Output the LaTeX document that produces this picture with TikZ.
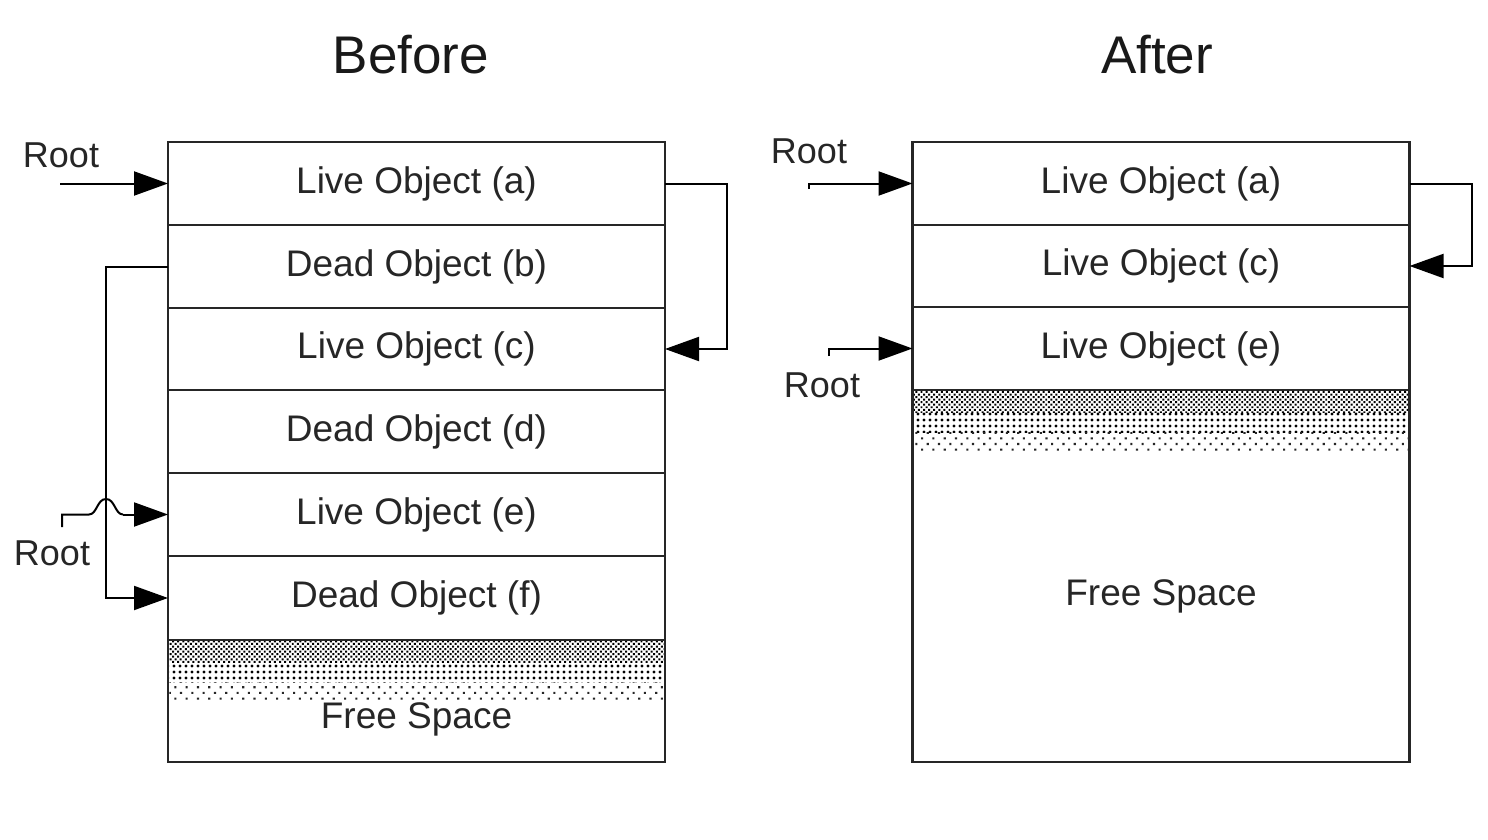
\documentclass[tikz,border=0pt]{standalone}
\usepackage{fontspec}
\setmainfont{Liberation Sans}
\usetikzlibrary{arrows.meta,patterns.meta}
\begin{document}
\begin{tikzpicture}[x=1pt,y=-1pt,
  cell/.style={draw=black!85, line width=2.6pt, minimum width=497pt, inner sep=0pt, outer sep=0pt, font=\fontsize{37}{42}\selectfont, text=black!85},
  lbl/.style={font=\fontsize{36}{40}\selectfont, text=black!85, inner sep=0pt},
  big/.style={font=\fontsize{37}{42}\selectfont, text=black!85, inner sep=0pt},
  ttl/.style={font=\fontsize{53}{60}\selectfont, text=black!90, inner sep=0pt},
  conn/.style={draw=black, line width=2pt, -{Triangle[length=34pt,width=24pt]}},
  wire/.style={draw=black, line width=2pt},
  dense/.style={pattern={Dots[distance=3.6pt, radius=1.4pt, angle=45]}, pattern color=black},
  medium/.style={pattern={Dots[distance=6pt, radius=1.6pt]}, pattern color=black},
  sparse/.style={pattern={Dots[distance=8pt, radius=1.5pt, angle=45]}, pattern color=black!85}]
\useasboundingbox (0,0) rectangle (1488,840);

% titles
\node[ttl] (tb) at (411,55) {Before};
\node[ttl] (ta) at (1157,55) {After};

% Before column
\node[cell, minimum height=83pt] (la) at (416.5,183.5) {\raisebox{-2pt}{Live Object (a)}};
\node[cell, minimum height=83pt] (lb) at (416.5,266.5) {\raisebox{-2pt}{Dead Object (b)}};
\node[cell, minimum height=82pt] (lc) at (416.5,349) {\raisebox{-2pt}{Live Object (c)}};
\node[cell, minimum height=83pt] (ld) at (416.5,431.5) {\raisebox{-2pt}{Dead Object (d)}};
\node[cell, minimum height=83pt] (le) at (416.5,514.5) {\raisebox{-2pt}{Live Object (e)}};
\node[cell, minimum height=84pt] (lf) at (416.5,598) {\raisebox{-2pt}{Dead Object (f)}};
\node[cell, minimum height=122pt] (lfree) at (416.5,701) {};
\fill[dense] ([xshift=1.3pt]lfree.north west) rectangle ([xshift=-1.3pt,yshift=-22pt]lfree.north east);
\fill[medium] ([xshift=1.3pt,yshift=-22pt]lfree.north west) rectangle ([xshift=-1.3pt,yshift=-42pt]lfree.north east);
\fill[sparse] ([xshift=1.3pt,yshift=-42pt]lfree.north west) rectangle ([xshift=-1.3pt,yshift=-60pt]lfree.north east);
\draw[draw=black!85, line width=2.6pt] (lfree.north west) rectangle (lfree.south east);
\node[big] (lfreet) at (416.5,719) {Free Space};

% After column
\node[cell, minimum height=83pt] (ra) at (1161,183.5) {\raisebox{-2pt}{Live Object (a)}};
\node[cell, minimum height=82pt] (rc) at (1161,266) {\raisebox{-2pt}{Live Object (c)}};
\node[cell, minimum height=83pt] (re) at (1161,348.5) {\raisebox{-2pt}{Live Object (e)}};
\node[cell, minimum height=372pt] (rfree) at (1161,576) {};
\fill[dense] ([xshift=1.3pt]rfree.north west) rectangle ([xshift=-1.3pt,yshift=-22pt]rfree.north east);
\fill[medium] ([xshift=1.3pt,yshift=-22pt]rfree.north west) rectangle ([xshift=-1.3pt,yshift=-42pt]rfree.north east);
\fill[sparse] ([xshift=1.3pt,yshift=-42pt]rfree.north west) rectangle ([xshift=-1.3pt,yshift=-60pt]rfree.north east);
\draw[draw=black!85, line width=2.6pt] (rfree.north west) rectangle (rfree.south east);
\node[big] (rfreet) at (1161,596) {Free Space};

% Before roots and references
\node[lbl] (r1) at (61,155) {Root};
\coordinate (r1s) at (60,183.5);
\draw[conn] (r1s) -- (la.west);

\draw[conn] (la.east) -- ++(62,0) |- (lc.east);
\draw[conn] (lb.west) -- ++(-62,0) |- (lf.west);

\node[lbl] (r2) at (52,553) {Root};
\coordinate (r2s) at (62,527);
\draw[wire] (r2s) -- (62,514.5) -- (89,514.5)
  .. controls (97,514.5) and (97,499) .. (106,499)
  .. controls (115,499) and (115,514.5) .. (123,514.5);
\coordinate (r2h) at (123,514.5);
\draw[conn] (r2h) -- (le.west);

% After roots and references
\node[lbl] (r3) at (809,151) {Root};
\coordinate (r3s) at (809,189);
\draw[conn] (r3s) -- (809,183.5) -- (ra.west);

\node[lbl] (r4) at (822,385) {Root};
\coordinate (r4s) at (829,356);
\draw[conn] (r4s) -- (829,348.5) -- (re.west);

\draw[conn] (ra.east) -- ++(62,0) |- (rc.east);
\end{tikzpicture}
\end{document}
